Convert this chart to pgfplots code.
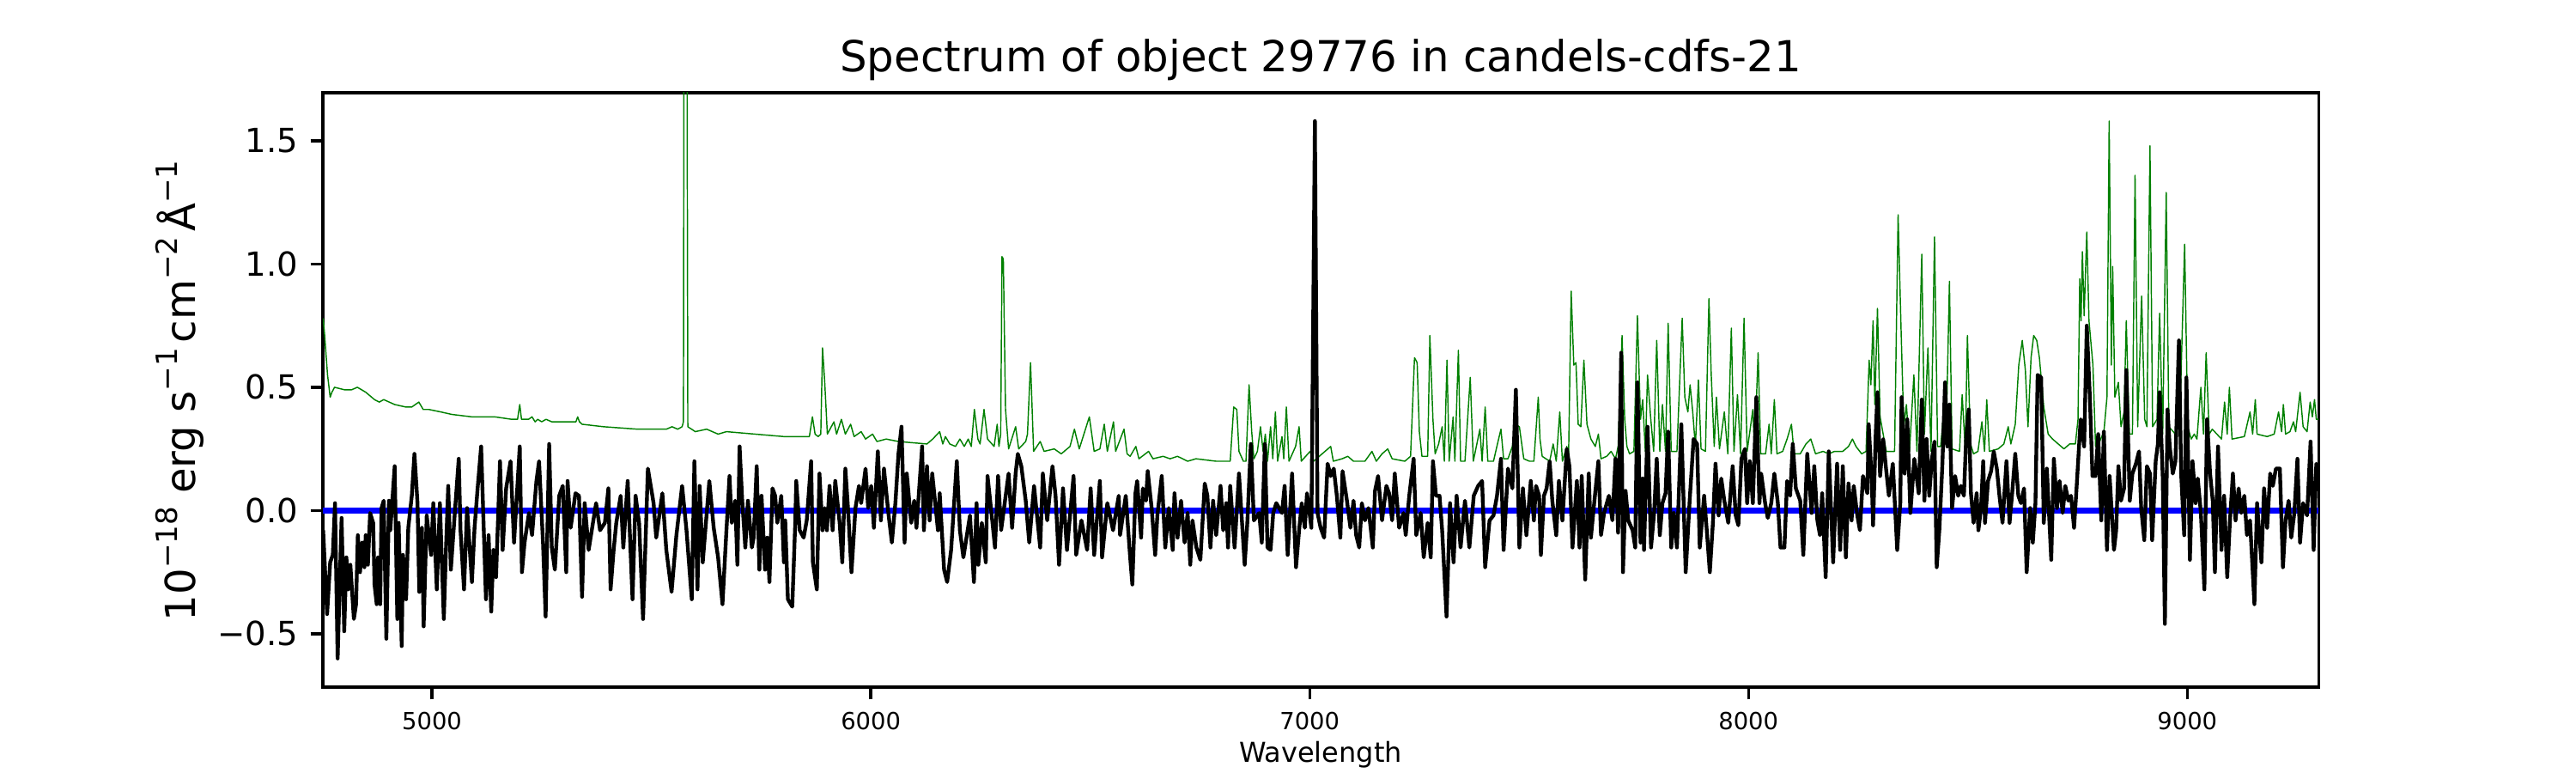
\documentclass[border=0pt]{standalone}
\usepackage{fontspec}
\setmainfont{DejaVu Sans}
\usepackage{pgfplots}
\pgfplotsset{compat=1.18}
\definecolor{mplgreen}{RGB}{0,128,0}
\definecolor{mplblue}{RGB}{0,0,255}
\newcommand\sups[1]{\raisebox{0.42em}{\fontsize{8.2}{9}\selectfont #1}}
\begin{document}
\begin{tikzpicture}
\useasboundingbox (0,0) rectangle (722.7pt,216.8pt);
\begin{axis}[
  at={(90.6pt,24.1pt)}, anchor=south west,
  scale only axis, width=559.9pt, height=166.7pt,
  xmin=4751.5, xmax=9299.4, ymin=-0.716, ymax=1.695,
  axis line style={line width=0.8pt},
  tick align=outside, xtick pos=bottom, ytick pos=left,
  major tick length=3.5pt,
  every tick/.style={black, line width=0.8pt},
  xtick={5000,6000,7000,8000,9000},
  xticklabels={5000,6000,7000,8000,9000},
  ytick={-0.5,0,0.5,1,1.5},
  yticklabels={−0.5,0.0,0.5,1.0,1.5},
  xticklabel style={font=\fontsize{6.6}{8}\selectfont},
  yticklabel style={font=\fontsize{9.3}{11}\selectfont},
  clip=true,
]
% green: noise / sky spectrum
\addplot[mplgreen, line width=0.35pt, line join=round] coordinates {
(4752,0.78)(4755,0.72)(4762,0.55)(4768,0.46)(4772,0.48)(4778,0.50)(4800,0.49)(4817,0.49)(4830,0.50)(4849,0.48)(4869,0.45)(4880,0.44)(4890,0.45)(4915,0.43)(4940,0.42)(4954,0.42)(4970,0.44)(4980,0.41)(4993,0.41)(5020,0.40)(5045,0.39)(5091,0.38)(5130,0.38)(5143,0.38)(5182,0.37)(5195,0.37)(5200,0.43)(5204,0.37)(5208,0.37)(5220,0.37)(5228,0.38)(5235,0.36)(5241,0.37)(5250,0.36)(5260,0.37)(5273,0.36)(5300,0.36)(5328,0.36)(5332,0.38)(5336,0.36)(5342,0.35)(5391,0.34)(5469,0.33)(5534,0.33)(5547,0.34)(5560,0.33)(5570,0.34)(5573,0.36)(5575,3.0)(5580,3.0)(5583,0.34)(5600,0.32)(5626,0.33)(5652,0.31)(5671,0.32)
(5736,0.31)(5802,0.30)(5860,0.30)(5867,0.38)(5873,0.31)(5880,0.30)(5886,0.31)(5890,0.66)(5895,0.52)(5901,0.31)(5916,0.36)(5922,0.31)(5933,0.37)(5942,0.31)(5954,0.35)(5962,0.30)(5978,0.32)(5988,0.29)(6004,0.31)(6014,0.28)(6035,0.29)(6063,0.28)(6128,0.27)(6141,0.29)(6157,0.32)(6164,0.27)(6170,0.30)(6180,0.27)(6193,0.26)(6203,0.29)(6213,0.26)(6222,0.29)(6229,0.26)(6236,0.41)(6244,0.29)(6249,0.27)(6258,0.41)(6266,0.29)(6281,0.26)(6288,0.35)(6292,0.26)(6296,0.31)(6299,1.03)(6302,1.02)(6307,0.41)(6314,0.25)(6330,0.34)(6337,0.25)(6353,0.28)(6357,0.31)(6364,0.60)(6371,0.24)(6386,0.28)(6395,0.24)(6418,0.25)(6434,0.23)(6454,0.26)(6464,0.33)(6475,0.25)(6498,0.38)(6509,0.24)(6522,0.25)(6532,0.35)(6539,0.24)(6553,0.36)(6558,0.24)(6577,0.33)(6584,0.23)(6591,0.22)
(6604,0.26)(6611,0.21)(6633,0.24)(6643,0.21)(6666,0.22)(6682,0.21)(6699,0.22)(6722,0.20)(6741,0.21)(6787,0.20)(6819,0.20)(6827,0.42)(6834,0.41)(6839,0.24)(6849,0.20)(6855,0.20)(6862,0.51)(6868,0.32)(6873,0.21)(6881,0.24)(6888,0.34)(6894,0.24)(6899,0.31)(6904,0.20)(6911,0.34)(6916,0.21)(6922,0.40)(6927,0.20)(6937,0.30)(6941,0.21)(6947,0.42)(6953,0.20)(6968,0.26)(6976,0.34)(6981,0.20)(7001,0.24)(7009,0.20)(7048,0.26)(7054,0.20)(7074,0.21)(7087,0.22)(7100,0.20)(7126,0.20)(7142,0.24)(7152,0.20)(7165,0.23)(7178,0.25)(7188,0.21)(7217,0.20)(7230,0.22)(7239,0.62)(7245,0.60)(7250,0.32)(7256,0.22)(7269,0.22)(7274,0.71)(7281,0.37)(7286,0.23)(7294,0.27)(7302,0.34)(7307,0.20)(7313,0.61)(7318,0.20)(7327,0.38)(7331,0.20)(7339,0.65)(7344,0.20)(7354,0.20)(7366,0.54)(7373,0.20)(7388,0.33)(7393,0.20)(7400,0.42)(7406,0.20)(7419,0.20)(7428,0.27)(7436,0.33)(7442,0.21)(7452,0.21)(7462,0.26)(7468,0.35)(7478,0.34)(7488,0.21)(7501,0.20)
(7511,0.20)(7521,0.46)(7525,0.29)(7530,0.22)(7547,0.20)(7555,0.27)(7562,0.20)(7570,0.40)(7576,0.20)(7586,0.26)(7590,0.21)(7596,0.89)(7602,0.59)(7607,0.60)(7612,0.35)(7618,0.34)(7625,0.61)(7632,0.35)(7641,0.29)(7651,0.26)(7658,0.31)(7664,0.21)(7677,0.22)(7687,0.24)(7697,0.21)(7703,0.26)(7712,0.71)(7718,0.37)(7723,0.26)(7729,0.23)(7739,0.24)(7747,0.79)(7754,0.37)(7759,0.45)(7765,0.24)(7770,0.55)(7777,0.38)(7784,0.24)(7791,0.69)(7798,0.24)(7804,0.43)(7811,0.24)(7817,0.76)(7824,0.24)(7837,0.24)(7849,0.78)(7855,0.46)(7862,0.40)(7867,0.51)(7873,0.40)(7879,0.26)(7886,0.53)(7892,0.25)(7902,0.24)(7910,0.86)(7915,0.56)(7922,0.26)(7927,0.46)(7934,0.25)(7945,0.40)(7953,0.23)(7961,0.74)(7967,0.24)(7975,0.47)(7982,0.23)(7990,0.78)(7997,0.24)(8010,0.41)(8014,0.24)(8022,0.64)(8028,0.23)(8039,0.23)(8047,0.35)(8052,0.23)(8059,0.45)(8065,0.23)(8078,0.24)(8088,0.29)(8098,0.35)(8104,0.23)(8118,0.23)(8131,0.27)(8142,0.29)(8153,0.23)(8170,0.24)(8183,0.23)(8196,0.24)(8215,0.24)(8228,0.26)(8237,0.29)(8245,0.26)(8258,0.23)(8268,0.24)(8275,0.61)(8279,0.51)(8284,0.77)(8288,0.43)(8294,0.82)(8300,0.38)(8307,0.31)(8314,0.24)(8333,0.24)(8341,1.20)(8348,0.72)(8354,0.34)(8360,0.43)(8367,0.24)(8377,0.55)(8384,0.24)(8395,1.04)(8401,0.31)
(8409,0.66)(8416,0.24)(8424,1.11)(8431,0.26)(8438,0.26)(8444,0.38)(8451,0.34)(8458,0.93)(8464,0.25)(8481,0.24)(8487,0.47)(8494,0.25)(8499,0.71)(8506,0.27)(8513,0.23)(8523,0.24)(8532,0.36)(8538,0.24)(8543,0.45)(8549,0.24)(8569,0.25)(8582,0.27)(8592,0.34)(8598,0.27)(8608,0.35)(8616,0.59)(8624,0.69)(8631,0.57)(8637,0.34)(8644,0.62)(8650,0.71)(8657,0.69)(8663,0.62)(8673,0.42)(8683,0.31)(8693,0.29)(8706,0.27)(8719,0.25)(8732,0.27)(8745,0.27)(8751,0.37)(8755,0.94)(8758,0.77)(8761,1.05)(8765,0.79)(8771,1.13)(8776,0.77)(8785,0.59)(8791,0.26)(8798,0.27)(8810,0.32)(8817,0.46)(8822,1.58)(8827,0.59)(8830,0.99)(8835,0.46)(8843,0.52)(8849,0.34)(8856,0.40)(8861,0.77)(8868,0.31)(8875,0.31)(8881,1.36)(8887,0.34)(8896,0.87)(8903,0.37)(8908,0.34)(8915,1.48)(8921,0.34)(8931,0.37)(8937,0.80)(8944,0.31)(8952,1.29)(8958,0.34)(8973,0.31)(8983,0.37)(8994,1.08)(9001,0.34)(9009,0.29)(9016,0.31)(9022,0.29)(9031,0.50)(9037,0.31)(9043,0.64)(9050,0.31)(9057,0.33)(9078,0.29)(9085,0.44)(9091,0.31)(9096,0.50)(9102,0.29)(9130,0.30)(9143,0.40)(9149,0.31)(9155,0.45)(9159,0.31)(9182,0.30)(9198,0.31)(9208,0.40)(9215,0.32)(9219,0.43)(9224,0.31)(9234,0.32)(9242,0.36)(9247,0.32)(9257,0.48)(9264,0.34)(9273,0.32)(9280,0.44)(9285,0.38)(9290,0.45)(9294,0.37)(9299,0.37)
};
% zero line
\addplot[mplblue, line width=1.6pt] coordinates {(4751.5,0) (9299.4,0)};
% black: object flux
\addplot[black, line width=1.05pt, line join=round] coordinates {
(4752,-0.08)(4761,-0.42)(4768,-0.21)(4774,-0.18)(4779,0.03)(4785,-0.60)(4794,-0.03)(4800,-0.49)(4805,-0.19)(4809,-0.32)(4814,-0.22)(4822,-0.44)(4827,-0.38)(4831,-0.10)(4836,-0.25)(4841,-0.13)(4846,-0.23)(4849,-0.10)(4854,-0.22)(4859,-0.01)(4866,-0.05)(4869,-0.30)(4874,-0.38)(4877,-0.19)(4882,-0.38)(4885,0.01)(4890,0.04)(4896,-0.52)(4902,0.04)(4905,-0.08)(4915,0.18)(4921,-0.44)(4924,-0.05)(4931,-0.55)(4934,-0.18)(4941,-0.36)(4946,-0.07)(4954,0.06)(4960,0.23)(4967,0.03)(4971,-0.33)(4977,-0.07)(4981,-0.47)(4988,-0.02)(4998,-0.18)(5003,0.03)(5011,-0.32)(5018,0.03)(5027,-0.44)(5032,-0.15)(5037,0.10)(5043,-0.24)(5052,-0.01)(5061,0.21)(5065,-0.08)(5073,-0.32)(5080,0.01)(5084,-0.10)(5091,-0.29)(5097,-0.07)(5104,0.09)(5112,0.26)(5123,-0.36)(5129,-0.10)(5135,-0.41)(5140,-0.16)(5146,-0.27)(5155,0.20)(5161,-0.16)(5169,0.09)(5179,0.20)(5187,-0.13)(5200,0.26)(5205,-0.25)(5211,-0.13)(5221,-0.01)(5228,-0.10)(5238,0.12)(5244,0.20)(5253,-0.13)(5259,-0.43)(5267,0.27)(5273,-0.15)(5280,-0.24)(5290,0.06)(5298,0.10)(5306,-0.25)(5309,0.12)(5316,-0.07)(5327,0.07)(5335,0.06)(5342,-0.35)(5348,0.03)(5357,-0.16)(5374,0.03)(5383,-0.08)(5394,-0.05)(5402,0.09)(5407,-0.32)(5414,-0.16)(5420,-0.05)(5430,0.06)(5436,-0.15)(5446,0.12)(5457,-0.36)(5464,0.06)(5472,-0.05)(5481,-0.44)(5492,0.17)(5505,0.03)(5511,-0.11)(5525,0.07)(5534,-0.16)(5546,-0.33)(5557,-0.10)(5570,0.10)(5580,-0.08)(5592,-0.36)(5598,0.20)(5605,-0.32)(5610,0.10)(5617,-0.21)(5632,0.12)(5642,-0.07)(5652,-0.19)(5662,-0.38)(5671,-0.08)
(5678,0.14)(5683,-0.05)(5691,0.04)(5696,-0.22)(5701,0.26)(5707,0.04)(5714,-0.15)(5720,0.04)(5729,-0.15)(5733,-0.11)(5740,0.18)(5746,-0.24)(5751,0.06)(5759,-0.24)(5764,-0.11)(5769,-0.29)(5776,0.09)(5782,0.06)(5787,-0.05)(5796,0.06)(5802,-0.21)(5805,-0.04)(5811,-0.36)(5821,-0.39)(5828,-0.04)(5830,0.12)(5838,-0.08)(5847,-0.11)(5854,-0.04)(5864,0.20)(5868,-0.21)(5877,-0.32)(5883,0.15)(5890,-0.08)(5895,0.01)(5900,-0.08)(5906,0.10)(5913,-0.08)(5919,0.12)(5929,-0.05)(5935,-0.21)(5942,0.17)(5948,0.01)(5956,-0.25)(5965,0.01)(5973,0.10)(5978,0.03)(5988,0.17)(5994,0.01)(6001,0.10)(6007,-0.07)(6016,0.24)(6023,-0.04)(6030,0.17)(6040,-0.01)(6048,-0.13)(6056,0.03)(6063,0.23)(6070,0.34)(6077,-0.13)(6082,0.15)(6092,-0.05)(6099,0.04)(6104,-0.07)(6117,0.26)(6121,-0.08)(6128,0.18)(6134,-0.04)(6140,0.15)(6153,-0.08)(6157,0.07)(6167,-0.24)(6174,-0.29)(6183,-0.16)(6196,0.20)(6203,-0.08)(6211,-0.19)(6226,-0.02)(6235,-0.29)(6241,0.03)(6245,-0.22)(6253,-0.05)(6262,-0.21)(6266,0.14)(6275,-0.01)(6283,-0.15)(6290,0.14)(6297,-0.08)(6314,0.15)(6322,-0.07)(6330,0.15)(6335,0.23)(6343,0.18)(6353,0.04)(6361,-0.13)(6372,0.10)(6386,-0.15)(6392,0.15)(6402,-0.04)(6414,0.18)(6421,0.06)(6429,-0.22)(6438,0.09)(6447,-0.16)(6462,0.14)(6468,-0.18)(6480,-0.04)(6493,-0.16)(6501,0.09)(6509,-0.18)(6522,0.12)(6527,-0.19)(6539,0.03)(6552,-0.08)(6565,0.06)(6568,-0.10)(6581,0.06)(6591,-0.19)
(6596,-0.30)(6603,0.07)(6607,0.12)(6616,-0.11)(6620,0.09)(6627,0.04)(6631,0.16)(6640,0.01)(6648,-0.18)(6653,-0.02)(6663,0.14)(6671,-0.15)(6679,0.01)(6688,-0.16)(6692,0.07)(6699,-0.11)(6707,0.04)(6715,-0.13)(6722,-0.01)(6728,-0.22)(6733,-0.04)(6742,-0.15)(6751,-0.20)(6761,0.11)(6767,0.06)(6774,-0.15)(6780,0.04)(6787,-0.10)(6797,0.10)(6803,-0.08)(6810,0.03)(6814,-0.15)(6819,0.10)(6829,-0.15)(6839,0.15)(6852,-0.22)(6858,-0.05)(6866,0.27)(6873,-0.04)(6885,-0.01)(6891,-0.13)(6898,0.27)(6904,-0.15)(6911,-0.16)(6917,-0.01)(6924,0.03)(6937,-0.01)(6943,0.10)(6950,-0.18)(6960,0.15)(6969,-0.23)(6976,-0.08)(6982,0.03)(6989,-0.07)(6994,0.07)(7004,-0.07)(7012,1.58)(7018,-0.01)(7025,-0.07)(7033,-0.11)(7041,0.19)(7048,0.14)(7055,0.17)(7062,0.06)(7070,-0.11)(7075,0.16)(7085,0.04)(7093,-0.07)(7100,0.04)(7106,-0.10)(7113,-0.15)(7119,0.03)(7126,-0.04)(7134,0.01)(7144,-0.15)(7149,0.08)(7156,0.14)(7165,-0.04)(7175,0.10)(7181,0.07)(7188,-0.04)(7194,0.15)(7204,-0.07)(7214,-0.01)(7219,-0.10)(7227,0.06)(7237,0.21)(7243,-0.10)(7253,-0.01)(7260,-0.19)(7269,-0.05)(7276,-0.19)(7281,0.20)(7288,0.06)(7296,0.06)(7302,-0.08)(7312,-0.43)(7320,0.03)(7328,-0.21)(7335,0.06)(7344,-0.15)(7354,0.04)(7364,-0.15)(7374,0.06)(7384,0.10)(7393,0.12)(7400,-0.23)(7410,-0.04)(7419,-0.02)(7427,0.06)(7436,0.21)(7442,-0.16)(7452,0.17)(7462,0.09)(7470,0.49)(7478,-0.15)(7486,0.09)(7494,-0.10)(7504,0.12)(7511,-0.04)
(7516,0.10)(7523,0.06)(7527,-0.18)(7534,0.06)(7540,0.09)(7547,0.20)(7553,0.04)(7562,-0.10)(7568,0.12)(7576,-0.04)(7586,0.25)(7592,0.18)(7599,-0.15)(7609,0.12)(7615,-0.15)(7620,0.14)(7628,-0.28)(7636,0.15)(7641,-0.11)(7649,0.04)(7658,0.20)(7664,-0.10)(7671,-0.01)(7682,0.06)(7690,-0.04)(7697,0.21)(7703,-0.09)(7710,0.64)(7714,-0.25)(7720,0.08)(7726,-0.04)(7736,-0.08)(7742,-0.15)(7747,0.52)(7754,-0.13)(7759,0.13)(7762,-0.16)(7770,0.34)(7778,-0.15)(7785,-0.01)(7791,0.21)(7798,-0.10)(7804,0.03)(7811,0.07)(7817,0.32)(7824,-0.15)(7830,-0.01)(7837,-0.15)(7847,0.35)(7857,-0.25)(7866,0.04)(7875,0.29)(7883,0.27)(7889,-0.15)(7899,0.06)(7905,-0.08)(7912,-0.25)(7919,-0.05)(7925,0.19)(7932,-0.02)(7938,0.13)(7945,0.04)(7954,-0.05)(7964,0.18)(7971,-0.02)(7977,-0.06)(7984,0.21)(7992,0.25)(7997,0.03)(8003,0.20)(8010,0.03)(8018,0.46)(8025,0.03)(8029,0.15)(8038,0.03)(8044,-0.03)(8052,0.03)(8059,0.15)(8067,0.03)(8073,-0.15)(8082,-0.15)(8088,0.12)(8095,0.06)(8101,0.27)(8108,0.09)(8118,0.04)(8125,-0.18)(8134,0.23)(8144,-0.01)(8150,0.18)(8157,-0.04)(8163,-0.10)(8168,0.07)(8176,-0.27)(8183,0.24)(8193,-0.21)(8202,0.19)(8209,-0.16)(8215,0.18)(8222,-0.19)(8228,0.11)(8235,-0.04)(8240,0.10)(8248,-0.02)(8254,-0.08)(8261,0.14)(8271,0.07)(8274,0.35)(8281,0.12)(8284,-0.06)(8290,0.31)(8294,0.48)(8300,0.14)(8307,0.29)(8313,0.18)(8320,0.06)(8329,0.19)(8339,-0.16)(8346,0.03)(8349,0.46)(8356,0.15)(8362,0.37)(8369,-0.01)(8378,0.21)(8388,0.07)(8395,0.45)(8401,0.04)
(8406,0.29)(8412,0.06)(8418,0.21)(8424,0.28)(8429,-0.23)(8435,-0.08)(8442,0.19)(8448,0.52)(8453,0.26)(8458,0.43)(8464,0.01)(8471,0.14)(8478,0.06)(8484,0.10)(8491,0.06)(8496,0.29)(8502,0.41)(8507,0.07)(8513,-0.05)(8520,0.07)(8524,-0.08)(8530,0.01)(8535,0.20)(8539,-0.05)(8546,0.12)(8553,0.16)(8559,0.24)(8566,0.17)(8572,0.06)(8579,-0.05)(8588,0.20)(8595,-0.05)(8601,0.07)(8608,0.23)(8615,0.06)(8621,0.03)(8628,0.09)(8634,-0.25)(8642,0.01)(8648,-0.13)(8654,0.03)(8659,0.55)(8667,0.54)(8673,-0.05)(8680,0.17)(8690,-0.20)(8696,0.21)(8703,0.01)(8709,0.12)(8716,-0.01)(8722,0.10)(8729,0.04)(8735,0.06)(8742,-0.07)(8748,0.10)(8757,0.37)(8765,0.26)(8771,0.75)(8778,0.46)(8784,0.14)(8791,0.14)(8797,0.31)(8804,-0.04)(8810,0.32)(8817,-0.16)(8823,0.14)(8833,-0.16)(8838,-0.08)(8843,0.18)(8849,0.04)(8856,0.09)(8861,0.57)(8869,0.04)(8875,0.15)(8883,0.19)(8890,0.24)(8895,0.01)(8902,-0.12)(8908,0.18)(8915,0.15)(8920,-0.12)(8928,0.20)(8933,0.27)(8937,0.48)(8944,0.14)(8949,-0.46)(8955,0.41)(8960,0.26)(8967,0.15)(8973,0.20)(8981,0.69)(8986,0.15)(8993,-0.10)(8998,0.54)(9003,0.12)(9006,-0.20)(9012,0.20)(9019,0.03)(9024,0.13)(9031,-0.01)(9039,-0.32)(9045,0.37)(9052,0.15)(9058,0.04)(9063,-0.25)(9070,0.26)(9078,-0.16)(9084,0.06)(9091,-0.27)(9097,-0.05)(9104,0.15)(9110,-0.04)(9117,0.09)(9123,-0.01)(9130,0.06)(9136,-0.10)(9143,-0.04)(9153,-0.38)(9159,0.03)(9169,-0.21)(9175,0.09)(9182,-0.07)(9189,0.15)(9195,0.10)(9202,0.17)(9211,0.17)(9218,-0.23)(9224,-0.04)(9231,0.04)(9237,-0.11)(9244,-0.01)(9251,0.21)(9257,-0.13)(9264,0.03)(9273,-0.02)(9281,0.28)(9288,-0.16)(9294,0.19)(9299,0.15)
};
\end{axis}
\node[anchor=base, font=\fontsize{12}{14}\selectfont] at (370.5pt,196.6pt) {Spectrum of object 29776 in candels-cdfs-21};
\node[anchor=base, font=\fontsize{7.7}{9}\selectfont, inner sep=0pt] at (370.5pt,2.9pt) {Wavelength};
\node[anchor=base, rotate=90, font=\fontsize{11.6}{14}\selectfont, inner sep=0pt] at (54.7pt,107.2pt) {10\sups{−18} erg s\sups{−1}\hspace{0.12em}cm\sups{−2}\hspace{0.12em}Å\sups{−1}};
\end{tikzpicture}
\end{document}
